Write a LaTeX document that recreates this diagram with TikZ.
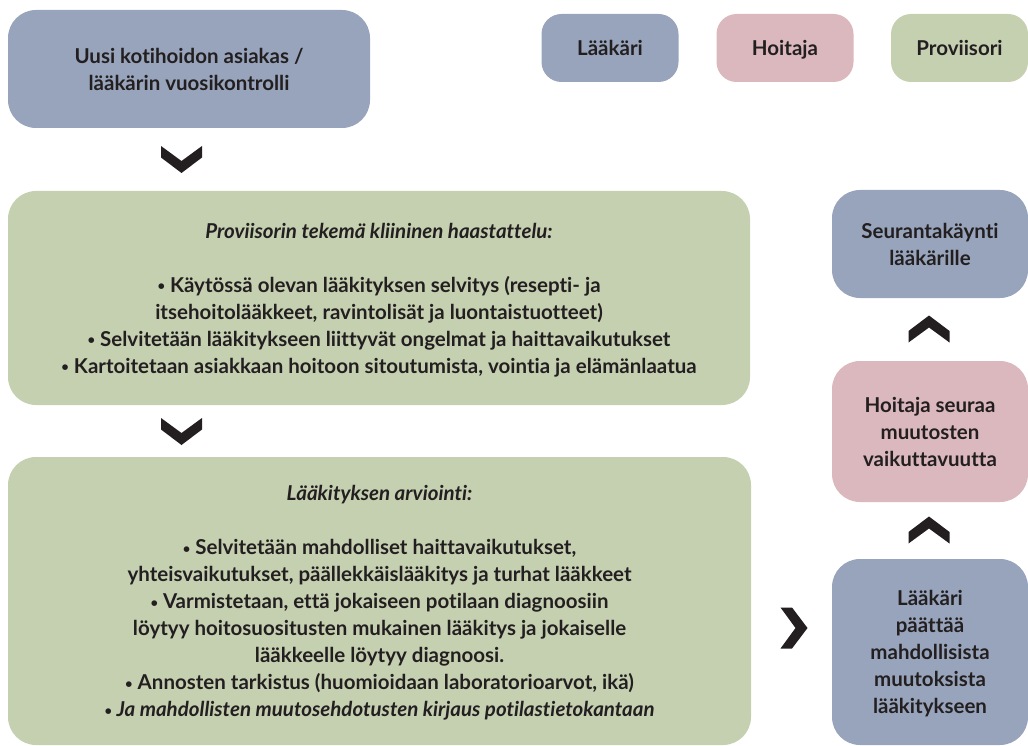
\documentclass[tikz,border=0pt]{standalone}
\usepackage{fontspec}
\setmainfont{Lato}[Ligatures=CommonOff]

\definecolor{laakari}{HTML}{97A4BB}
\definecolor{hoitaja}{HTML}{DAB8BD}
\definecolor{proviisori}{HTML}{C5D0B1}
\definecolor{ink}{HTML}{231F20}

\newcommand{\blt}{{\fontsize{13}{13}\selectfont\raisebox{1.5pt}{•}}}

\tikzset{
  box/.style={rounded corners=28pt, inner sep=0pt, align=center, text=ink,
    text depth=0pt, font=\bfseries\fontsize{20.5}{27}\selectfont},
  legend/.style={rounded corners=20pt, minimum width=137pt, minimum height=68pt,
    text height=15pt},
  chev/.pic={\fill[ink] (-20.5,-13.5) -- (0,1.5) -- (20.5,-13.5) -- (20.5,-2)
    -- (0,13.5) -- (-20.5,-2) -- cycle;}
}

\begin{document}
\begin{tikzpicture}[x=1pt,y=-1pt]
  \useasboundingbox (0,0) rectangle (1028,746);

      \begin{scope}[every node/.style={box}]
        \node[fill=laakari, minimum width=362pt, minimum height=118pt] (start) at (189,69)
          {Uusi kotihoidon asiakas /\\lääkärin vuosikontrolli};

        \node[fill=laakari, legend] (l1) at (610,48)   {Lääkäri};
        \node[fill=hoitaja, legend] (l2) at (785,48)   {Hoitaja};
        \node[fill=proviisori, legend] (l3) at (959.5,48) {Proviisori};

        \node[fill=proviisori, minimum width=742pt, minimum height=214pt] (haast) at (379,298)
          {{\itshape Proviisorin tekemä kliininen haastattelu:}\\[27pt]
           \blt{} Käytössä olevan lääkityksen selvitys (resepti- ja\\
           itsehoitolääkkeet, ravintolisät ja luontaistuotteet)\\
           \blt{} Selvitetään lääkitykseen liittyvät ongelmat ja haittavaikutukset\\
           \blt{} Kartoitetaan asiakkaan hoitoon sitoutumista, vointia ja elämänlaatua};

        \node[fill=proviisori, minimum width=743pt, minimum height=288pt] (arvio) at (379.5,601)
          {{\itshape Lääkityksen arviointi:}\\[27pt]
           \blt{} Selvitetään mahdolliset haittavaikutukset,\\
           yhteisvaikutukset, päällekkäislääkitys ja turhat lääkkeet\\
           \blt{} Varmistetaan, että jokaiseen potilaan diagnoosiin\\
           löytyy hoitosuositusten mukainen lääkitys ja jokaiselle\\
           lääkkeelle löytyy diagnoosi.\\
           \blt{} Annosten tarkistus (huomioidaan laboratorioarvot, ikä)\\
           {\itshape \blt{} Ja mahdollisten muutosehdotusten kirjaus potilastietokantaan}};

        \node[fill=laakari, minimum width=196pt, minimum height=108pt] (seur) at (930,244)
          {Seurantakäynti\\lääkärille};
        \node[fill=hoitaja, minimum width=196pt, minimum height=141pt] (hoit) at (930,431.5)
          {Hoitaja seuraa\\muutosten\\vaikuttavuutta};
        \node[fill=laakari, minimum width=196pt, minimum height=186pt] (paat) at (930,652)
          {Lääkäri\\päättää\\mahdollisista\\muutoksista\\lääkitykseen};
      \end{scope}

      % chevrons between the steps
      \pic at (181.5,159.5) {chev};
      \pic at (181.5,431.5) {chev};
      \pic[rotate=90] at (794,628) {chev};
      \pic[rotate=180] at (929,530) {chev};
      \pic[rotate=180] at (929,329) {chev};

\end{tikzpicture}
\end{document}
